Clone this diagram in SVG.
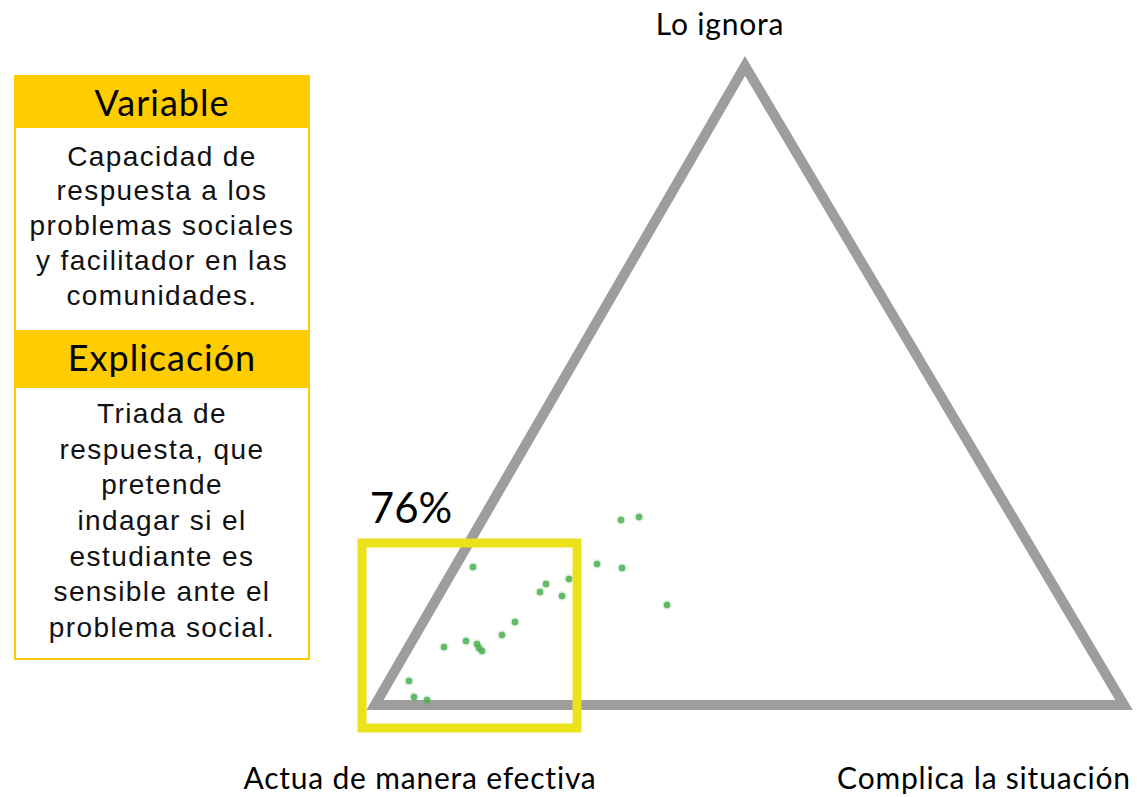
<svg xmlns="http://www.w3.org/2000/svg" width="1137" height="797" viewBox="0 0 1137 797">
<style>
.lbl{font-family:Lato,"Liberation Sans",sans-serif;fill:#000;text-anchor:middle}
.body{font-family:"Liberation Sans",Arial,sans-serif;font-size:28px;letter-spacing:1.4px;fill:#111;text-anchor:middle}
.hdr{font-family:Lato,"Liberation Sans",sans-serif;font-size:36px;letter-spacing:1px;fill:#000;text-anchor:middle}
.ax{font-size:30px;letter-spacing:0.8px}
.dot{fill:#4caf50;fill-opacity:0.85;stroke:#4caf50;stroke-opacity:0.2;stroke-width:3}
</style>
<rect width="1137" height="797" fill="#fff"/>
<g id="panel">
<rect x="15" y="76" width="294" height="583" fill="#fff" stroke="#FFCC00" stroke-width="2"/>
<rect x="14" y="75" width="296" height="53" fill="#FFCC00"/>
<rect x="14" y="330" width="296" height="58" fill="#FFCC00"/>
<text class="hdr" x="162" y="116">Variable</text>
<text class="body" x="162" y="166">Capacidad de</text>
<text class="body" x="162" y="200">respuesta a los</text>
<text class="body" x="162" y="235">problemas sociales</text>
<text class="body" x="162" y="270">y facilitador en las</text>
<text class="body" x="162" y="305">comunidades.</text>
<text class="hdr" x="162" y="371">Explicación</text>
<text class="body" x="162" y="423">Triada de</text>
<text class="body" x="162" y="459">respuesta, que</text>
<text class="body" x="162" y="494">pretende</text>
<text class="body" x="162" y="530">indagar si el</text>
<text class="body" x="162" y="566">estudiante es</text>
<text class="body" x="162" y="601">sensible ante el</text>
<text class="body" x="162" y="637">problema social.</text>
</g>
<g id="triangle">
<polygon points="745,66 375,705 1124,705" fill="none" stroke="#9d9d9b" stroke-width="10" stroke-linejoin="miter"/>
</g>
<g id="dots">
<circle class="dot" cx="621" cy="520" r="3.2"/>
<circle class="dot" cx="639" cy="517" r="3.2"/>
<circle class="dot" cx="473" cy="567" r="3.2"/>
<circle class="dot" cx="597" cy="564" r="3.2"/>
<circle class="dot" cx="622" cy="568" r="3.2"/>
<circle class="dot" cx="569" cy="579" r="3.2"/>
<circle class="dot" cx="546" cy="584" r="3.2"/>
<circle class="dot" cx="540" cy="592" r="3.2"/>
<circle class="dot" cx="562" cy="596" r="3.2"/>
<circle class="dot" cx="667" cy="605" r="3.2"/>
<circle class="dot" cx="515" cy="622" r="3.2"/>
<circle class="dot" cx="502" cy="635" r="3.2"/>
<circle class="dot" cx="466" cy="641" r="3.2"/>
<circle class="dot" cx="477" cy="644" r="3.2"/>
<circle class="dot" cx="479" cy="648" r="3.2"/>
<circle class="dot" cx="482" cy="651" r="3.2"/>
<circle class="dot" cx="444" cy="647" r="3.2"/>
<circle class="dot" cx="409" cy="681" r="3.2"/>
<circle class="dot" cx="414" cy="697" r="3.2"/>
<circle class="dot" cx="427" cy="700" r="3.2"/>
</g>
<g id="highlight">
<rect x="362" y="543" width="215" height="185" fill="none" stroke="#ECE21C" stroke-width="9"/>
<text class="lbl" x="411" y="523" font-size="42">76%</text>
</g>
<g id="labels">
<text class="lbl ax" x="720" y="35">Lo ignora</text>
<text class="lbl ax" x="420" y="789">Actua de manera efectiva</text>
<text class="lbl ax" x="984" y="789">Complica la situación</text>
</g>
</svg>
